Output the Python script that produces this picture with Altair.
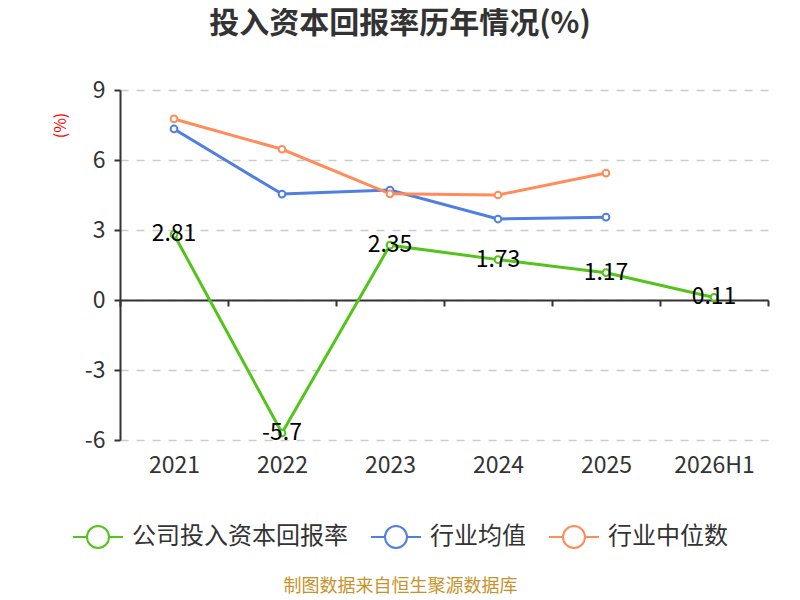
import altair as alt
import pandas as pd

years = ["2021", "2022", "2023", "2024", "2025", "2026H1"]
company = [2.81, -5.7, 2.35, 1.73, 1.17, 0.11]
company_labels = ["2.81", "-5.7", "2.35", "1.73", "1.17", "0.11"]
industry_avg = [7.33, 4.54, 4.71, 3.47, 3.55, None]
industry_median = [7.76, 6.46, 4.55, 4.50, 5.44, None]

series_names = ["公司投入资本回报率", "行业均值", "行业中位数"]
series_colors = ["#52C41A", "#4F7FE0", "#FF8C5A"]

rows = []
for name, vals in zip(series_names, [company, industry_avg, industry_median]):
    for y, v in zip(years, vals):
        if v is not None:
            rows.append({"year": y, "value": v, "series": name})
df = pd.DataFrame(rows)
lab_df = pd.DataFrame({"year": years, "value": company, "label": company_labels})

FONT = "Noto Sans CJK SC"

x = alt.X(
    "year:N",
    sort=years,
    scale=alt.Scale(paddingInner=0, paddingOuter=0),
    axis=alt.Axis(
        title="制图数据来自恒生聚源数据库",
        titleColor="#C8922A",
        titleFontSize=18,
        titleFontWeight="normal",
        titleFont=FONT,
        titleX=280,
        titleY=286,
        titleBaseline="middle",
        offset=-140,
        labelAngle=0,
        labelFontSize=23,
        labelColor="#333333",
        labelFont=FONT,
        labelPadding=148,
        tickBand="extent",
        tickSize=6,
        tickColor="#333333",
        tickWidth=2,
        domainColor="#333333",
        domainWidth=2,
        grid=False,
    ),
)

y = alt.Y(
    "value:Q",
    scale=alt.Scale(domain=[-6, 9], nice=False, zero=False),
    axis=alt.Axis(
        values=[-6, -3, 0, 3, 6, 9],
        labelExpr="'' + datum.value",
        title="(%)",
        titleColor="#FF0000",
        titleFontSize=16,
        titleFontWeight="normal",
        titleFont=FONT,
        titleAngle=270,
        titleX=-60,
        titleY=35,
        titleAlign="center",
        titleBaseline="middle",
        labelFontSize=23,
        labelColor="#333333",
        labelFont=FONT,
        labelPadding=9,
        tickSize=6,
        tickColor="#333333",
        tickWidth=2,
        domainColor="#333333",
        domainWidth=2,
        grid=True,
        gridDash=[8, 8],
        gridColor="#CCCCCC",
        gridWidth=1.5,
    ),
)

color = alt.Color(
    "series:N",
    scale=alt.Scale(domain=series_names, range=series_colors),
    legend=alt.Legend(
        title=None,
        orient="none",
        direction="horizontal",
        legendX=-48,
        legendY=421,
        symbolType="M-1,0L-0.44,0M0.44,0L1,0M-0.44,0A0.44,0.44,0,1,0,0.44,0A0.44,0.44,0,1,0,-0.44,0",
        symbolSize=2500,
        symbolStrokeWidth=2,
        symbolFillColor="white",
        labelFontSize=24,
        labelColor="#333333",
        labelFont=FONT,
        labelOffset=8,
        columnPadding=19,
        labelLimit=400,
    ),
)

lines = alt.Chart(df).mark_line(
    strokeWidth=3,
    point=alt.OverlayMarkDef(filled=False, fill="white", size=45, strokeWidth=2, opacity=1),
).encode(x=x, y=y, color=color)

labels = alt.Chart(lab_df).mark_text(
    fontSize=23, font=FONT, color="#000000", baseline="middle", align="center", dy=0
).encode(
    x=x,
    y=y,
    text="label:N",
)

chart = (
    alt.layer(lines, labels)
    .properties(
        width=648,
        height=350,
        autosize=alt.AutoSizeParams(type="none"),
        padding={"left": 112, "top": 82, "right": 24, "bottom": 160},
        view=alt.ViewBackground(stroke="transparent", strokeWidth=0),
        title=alt.Title(
            "投入资本回报率历年情况(%)",
            font=FONT,
            fontSize=30,
            fontWeight="bold",
            color="#333333",
            anchor="middle",
            dx=-44,
            offset=40,
        ),
    )
    .configure(background="white")
    .configure_view(strokeWidth=0, stroke="transparent")
)

chart.save("out.html", embed_options={"renderer": "svg", "actions": False})
